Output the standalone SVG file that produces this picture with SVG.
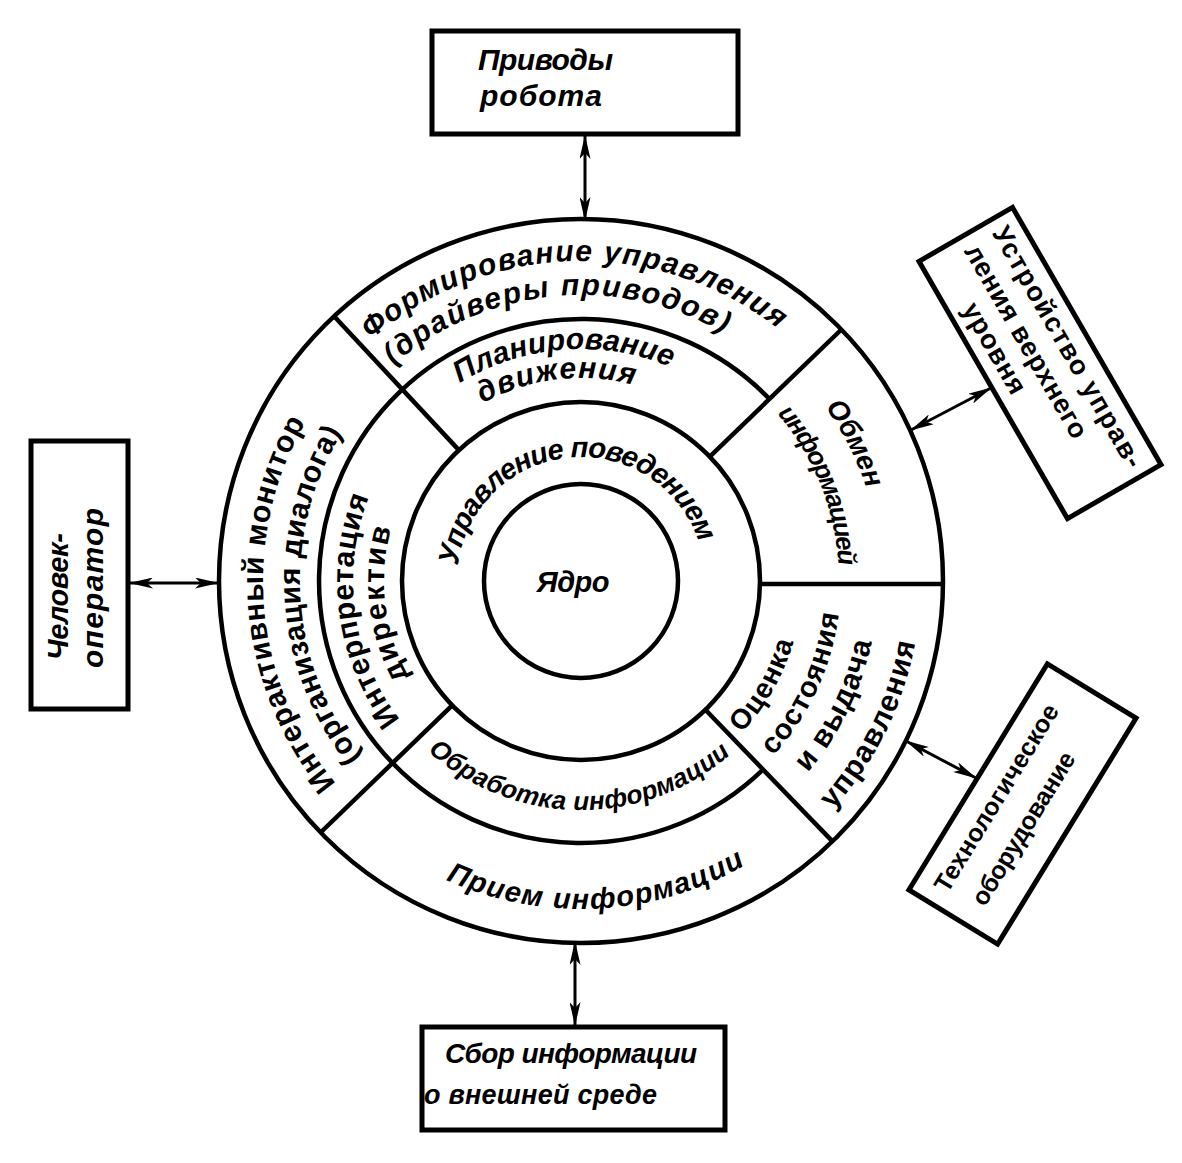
<svg xmlns="http://www.w3.org/2000/svg" width="1182" height="1163" viewBox="0 0 1182 1163">
<defs>
<style>
.ln{fill:none;stroke:#000;stroke-width:4.5}
.bx{fill:#fff;stroke:#000;stroke-width:5}
.t{font-family:"Liberation Sans","DejaVu Sans",sans-serif;font-weight:bold;fill:#000}
.i{font-style:italic}
.cn{fill:none;stroke:#000;stroke-width:3;marker-start:url(#ah);marker-end:url(#ah)}
</style>
<marker id="ah" viewBox="0 0 24 11" refX="23" refY="5.5" markerWidth="24" markerHeight="11" markerUnits="userSpaceOnUse" orient="auto-start-reverse"><path d="M0,0 L24,5.5 L0,11 L6,5.5 z" fill="#000"/></marker>
<path id="p-f1" d="M371.1,339.5 A320,320 0 0 1 778.0,328.8"/>
<path id="p-f2" d="M393.4,365.2 A286,286 0 0 1 724.0,333.3"/>
<path id="p-pl1" d="M459.8,383.2 A232,232 0 0 1 669.8,366.7"/>
<path id="p-pl2" d="M482.6,403.5 A203,203 0 0 1 633.5,384.9"/>
<path id="p-beh" d="M457.9,565.9 A124,124 0 0 1 698.9,542.7"/>
<path id="p-ob1" d="M825.2,406.8 A300,300 0 0 1 866.3,488.3"/>
<path id="p-ob2" d="M777.2,413.5 A258,258 0 0 1 838.5,565.3"/>
<path id="p-oc1" d="M741.3,733.1 A221,221 0 0 0 793.4,641.9"/>
<path id="p-oc2" d="M773.3,756.0 A260,260 0 0 0 838.9,614.0"/>
<path id="p-oc3" d="M807.8,772.7 A297,297 0 0 0 871.6,642.2"/>
<path id="p-oc4" d="M832.5,809.8 A340,340 0 0 0 915.4,642.4"/>
<path id="p-im1" d="M336.0,783.7 A318,318 0 0 1 305.6,422.0"/>
<path id="p-im2" d="M361.7,756.7 A281,281 0 0 1 342.1,432.9"/>
<path id="p-in1" d="M400.1,719.8 A228,228 0 0 1 368.9,497.4"/>
<path id="p-in2" d="M408.7,676.5 A197,197 0 0 1 391.1,528.7"/>
<path id="p-obr" d="M427.8,751.2 A229,229 0 0 0 730.6,754.4"/>
<path id="p-pr" d="M446.0,879.9 A328,328 0 0 0 745,865.1"/>
</defs>
<rect x="0" y="0" width="1182" height="1163" fill="#fff"/>

<g id="wheel">
<circle class="ln" cx="581" cy="581" r="362"/>
<circle class="ln" cx="581" cy="581" r="179"/>
<circle class="ln" cx="581" cy="581" r="97"/>
<path class="ln" d="M769.5,399.0 A262,262 0 1 0 763.0,769.5"/>
<path class="ln" d="M458.9,450.1 L334.1,316.2"/>
<path class="ln" d="M709.8,456.6 L841.4,329.5"/>
<path class="ln" d="M760,584 L943,584"/>
<path class="ln" d="M705.4,709.8 L832.5,841.4"/>
<path class="ln" d="M452.2,705.4 L320.6,832.5"/>
</g>

<g id="core">
<text class="t i" x="573" y="592" font-size="29" text-anchor="middle" textLength="73">Ядро</text>
</g>
<g id="behavior">
<text class="t i" font-size="29"><textPath href="#p-beh" textLength="335">Управление поведением</textPath></text>
</g>
<g id="motion-planning">
<text class="t i" font-size="30"><textPath href="#p-pl1" textLength="219">Планирование</textPath></text>
<text class="t i" font-size="30"><textPath href="#p-pl2" textLength="156">движения</textPath></text>
</g>
<g id="directives">
<text class="t" font-size="30"><textPath href="#p-in1" textLength="235">Интерпретация</textPath></text>
<text class="t" font-size="30"><textPath href="#p-in2" textLength="153">директив</textPath></text>
</g>
<g id="processing">
<text class="t i" font-size="26"><textPath href="#p-obr" textLength="331">Обработка информации</textPath></text>
</g>
<g id="control-forming">
<text class="t i" font-size="30"><textPath href="#p-f1" textLength="441">Формирование управления</textPath></text>
<text class="t i" font-size="30"><textPath href="#p-f2" textLength="354">(драйверы приводов)</textPath></text>
</g>
<g id="exchange">
<text class="t i" font-size="28"><textPath href="#p-ob1" textLength="92">Обмен</textPath></text>
<text class="t i" font-size="26"><textPath href="#p-ob2" textLength="167">информацией</textPath></text>
</g>
<g id="state-estimation">
<text class="t" font-size="28"><textPath href="#p-oc1" textLength="106">Оценка</textPath></text>
<text class="t" font-size="29"><textPath href="#p-oc2" textLength="159">состояния</textPath></text>
<text class="t" font-size="30"><textPath href="#p-oc3" textLength="147">и выдача</textPath></text>
<text class="t" font-size="30"><textPath href="#p-oc4" textLength="189">управления</textPath></text>
</g>
<g id="reception">
<text class="t i" font-size="29"><textPath href="#p-pr" textLength="311">Прием информации</textPath></text>
</g>
<g id="monitor">
<text class="t" font-size="30"><textPath href="#p-im1" textLength="386">Интерактивный монитор</textPath></text>
<text class="t" font-size="30"><textPath href="#p-im2" textLength="346">(организация диалога)</textPath></text>
</g>

<g id="drives">
<rect class="bx" x="432" y="31" width="306" height="103"/>
<text class="t i" x="478" y="70" font-size="30" textLength="135">Приводы</text>
<text class="t i" x="480" y="106" font-size="30" textLength="122">робота</text>
</g>
<g id="operator">
<rect class="bx" x="31" y="441" width="97" height="268"/>
<text class="t i" font-size="29" transform="translate(68,660) rotate(-90)" textLength="127">Человек-</text>
<text class="t i" font-size="30" transform="translate(103,668) rotate(-90)" textLength="160">оператор</text>
</g>
<g id="upper-level" transform="translate(1040,363) rotate(60)">
<rect class="bx" x="-148.5" y="-54" width="297" height="108"/>
<text class="t" x="-137" y="-23" font-size="27" textLength="274">Устройство управ-</text>
<text class="t" x="-135" y="10" font-size="27" textLength="219">ления верхнего</text>
<text class="t" x="-86" y="41" font-size="27" textLength="101">уровня</text>
</g>
<g id="equipment" transform="translate(1022.5,804) rotate(-58.5)">
<rect class="bx" x="-132.5" y="-52" width="265" height="104"/>
<text class="t" x="-116" y="-17" font-size="25" textLength="215">Технологическое</text>
<text class="t" x="-108" y="22" font-size="25" textLength="175">оборудование</text>
</g>
<g id="sensing">
<rect class="bx" x="422" y="1027" width="303" height="103"/>
<text class="t i" x="445" y="1063" font-size="28" textLength="252">Сбор информации</text>
<text class="t i" x="424" y="1104" font-size="27" textLength="233">о внешней среде</text>
</g>

<g id="connectors">
<line class="cn" x1="585" y1="136" x2="585" y2="220"/>
<line class="cn" x1="130" y1="583" x2="218" y2="583"/>
<line class="cn" x1="575" y1="942" x2="575" y2="1025"/>
<line class="cn" x1="911" y1="430" x2="991" y2="388"/>
<line class="cn" x1="906" y1="741" x2="976" y2="778"/>
</g>
</svg>
